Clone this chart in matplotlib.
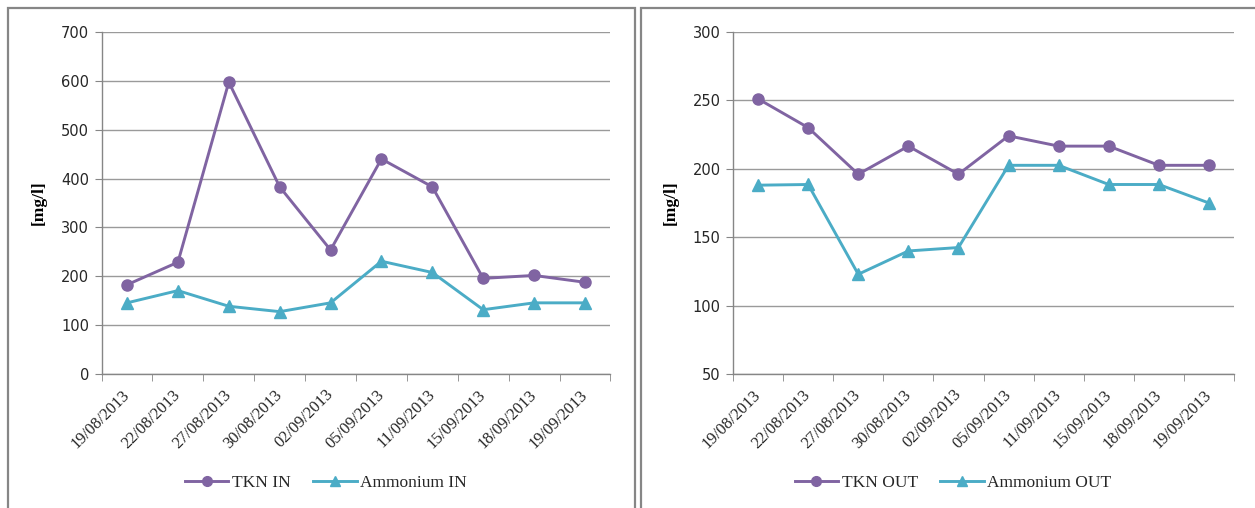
import matplotlib
matplotlib.use("Agg")
import matplotlib.pyplot as plt
from matplotlib.patches import Rectangle
from matplotlib.lines import Line2D

dates = ["19/08/2013", "22/08/2013", "27/08/2013", "30/08/2013", "02/09/2013",
         "05/09/2013", "11/09/2013", "15/09/2013", "18/09/2013", "19/09/2013"]

tkn_in = [183, 229, 597, 383, 254, 440, 383, 196, 202, 188]
ammonium_in = [146, 171, 139, 128, 146, 231, 208, 132, 146, 146]

tkn_out = [251, 230, 196, 216.5, 196, 224, 216.5, 216.5, 202.5, 202.5]
ammonium_out = [188, 188.5, 123, 140, 142.5, 202.5, 202.5, 188.5, 188.5, 175]

left_yticks = [0, 100, 200, 300, 400, 500, 600, 700]
right_yticks = [50, 100, 150, 200, 250, 300]

PURPLE = "#8064A2"
TEAL = "#4BACC6"
AXIS_GRAY = "#868686"
GRID_GRAY = "#9a9a9a"
TEXT = "#262626"
SERIF = ["Liberation Serif", "DejaVu Serif"]

W, H = 1255, 508
fig = plt.figure(figsize=(W / 100, H / 100), dpi=100)
fig.patch.set_facecolor("white")

# chart frames
for x0, x1 in [(8, 635), (641, 1262)]:
    fig.add_artist(Rectangle((x0 / W, -10 / H), (x1 - x0) / W, (H - 8 + 10) / H,
                             transform=fig.transFigure, fill=False,
                             edgecolor=AXIS_GRAY, linewidth=1.6, zorder=0))


def draw_panel(rect, s1, s2, names, yticks, legend_cx, label_x):
    ax = fig.add_axes(rect)
    x = list(range(len(dates)))
    ax.plot(x, s1, color=PURPLE, lw=2.1, marker="o", ms=8, zorder=3)
    ax.plot(x, s2, color=TEAL, lw=2.1, marker="^", ms=8, zorder=3)
    ax.set_xlim(-0.5, len(dates) - 0.5)
    ax.set_ylim(yticks[0], yticks[-1])
    ax.set_yticks(yticks)
    ax.set_yticklabels([str(v) for v in yticks], fontsize=10.5, color=TEXT,
                       family="DejaVu Sans")
    ax.yaxis.grid(True, color=GRID_GRAY, lw=1.0)
    ax.set_axisbelow(True)
    for s in ("top", "right"):
        ax.spines[s].set_visible(False)
    for s in ("left", "bottom"):
        ax.spines[s].set_color(AXIS_GRAY)
        ax.spines[s].set_linewidth(1.0)
    ax.tick_params(axis="y", length=5, color=AXIS_GRAY, pad=4)
    ax.set_xticks(x)
    ax.set_xticklabels(dates, rotation=45, ha="right", va="center",
                       rotation_mode="anchor", fontsize=12, color=TEXT,
                       family=SERIF)
    ax.tick_params(axis="x", which="major", length=0, pad=13)
    ax.set_xticks([i - 0.5 for i in range(len(dates) + 1)], minor=True)
    ax.tick_params(axis="x", which="minor", length=5, color=AXIS_GRAY)
    ax.set_ylabel("[mg/l]", fontsize=12.5, fontweight="bold", color="black",
                  family=SERIF)
    ax.yaxis.set_label_coords(label_x, 0.5)

    handles = [Line2D([], [], color=PURPLE, lw=2.1, marker="o", ms=7),
               Line2D([], [], color=TEAL, lw=2.1, marker="^", ms=7)]
    fig.legend(handles, names, loc="center", ncol=2,
               bbox_to_anchor=(legend_cx / W, 1 - 483 / H),
               frameon=False, prop={"family": SERIF, "size": 12.5},
               handlelength=2.5, handletextpad=0.2, columnspacing=1.3,
               labelcolor=TEXT)
    return ax


draw_panel([101.6 / W, 1 - 374.3 / H, 508.8 / W, 342.6 / H],
           tkn_in, ammonium_in, ["TKN IN", "Ammonium IN"], left_yticks,
           326, -0.108)
draw_panel([733 / W, 1 - 374.3 / H, 501 / W, 342.6 / H],
           tkn_out, ammonium_out, ["TKN OUT", "Ammonium OUT"], right_yticks,
           953, -0.108)

fig.savefig("out.png", dpi=100, facecolor="white")
